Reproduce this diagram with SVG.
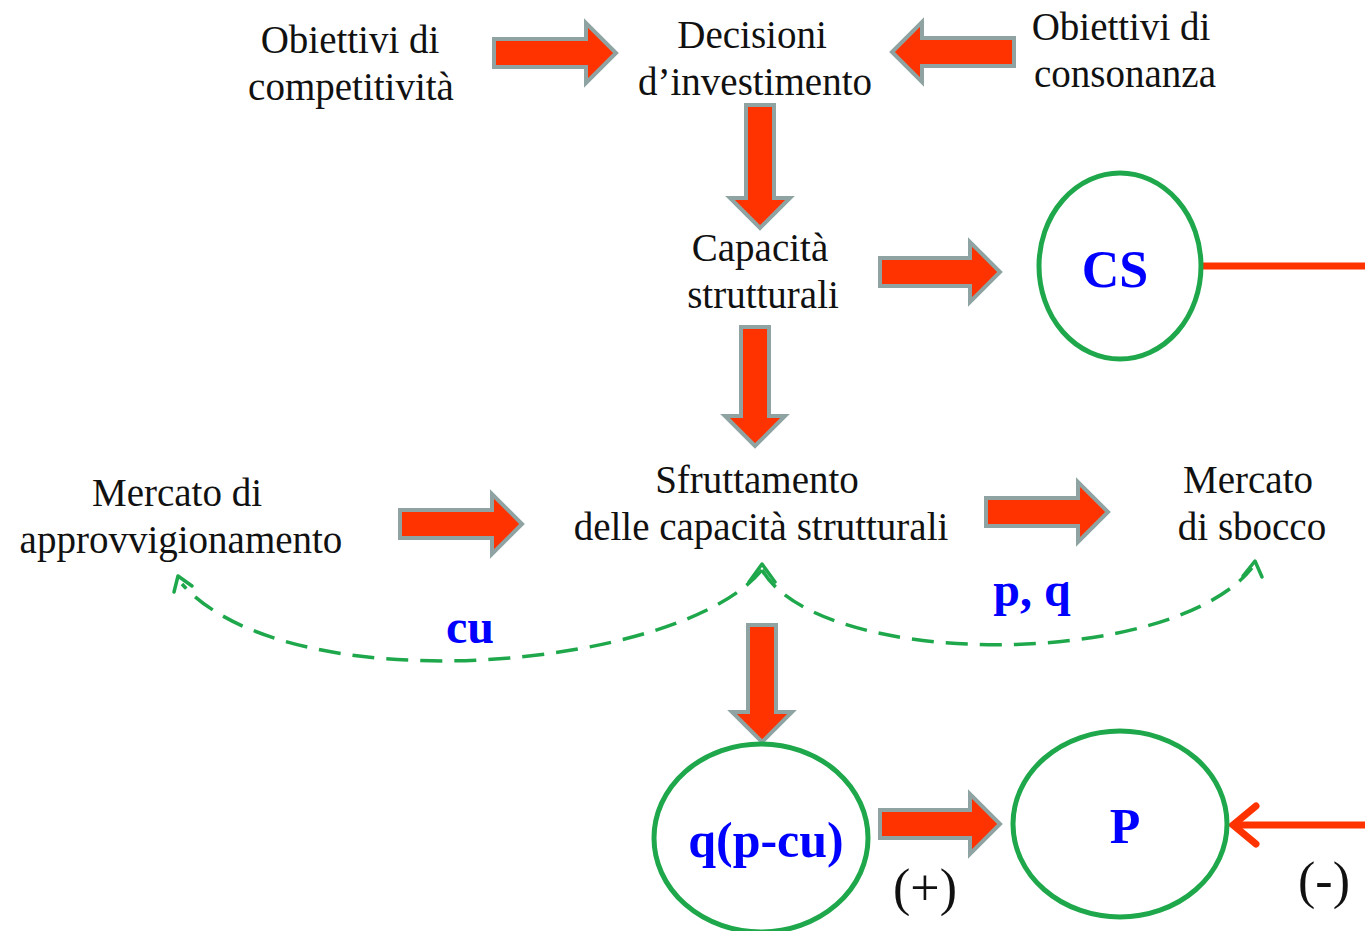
<svg xmlns="http://www.w3.org/2000/svg" width="1365" height="931" viewBox="0 0 1365 931">
<style>
.t{font-family:"Liberation Serif","Times New Roman",serif;font-size:39px;fill:#111;text-anchor:middle}
.b{font-family:"Liberation Serif","Times New Roman",serif;font-weight:bold;fill:#0000FF;text-anchor:middle}
.blk{fill:#FF3300;stroke:#8FA3A3;stroke-width:4;stroke-linejoin:miter}
.ell{fill:#fff;stroke:#1EA84B;stroke-width:5}
.dash{fill:none;stroke:#1EA84B;stroke-width:3.5;stroke-dasharray:22 12}
.chev{fill:none;stroke:#1EA84B;stroke-width:3.5;stroke-linecap:round;stroke-linejoin:round}
.rl{fill:none;stroke:#FF3300;stroke-width:7;stroke-linecap:butt}
.rchev{fill:none;stroke:#FF3300;stroke-width:7;stroke-linecap:round;stroke-linejoin:miter}
</style>
<rect width="1365" height="931" fill="#fff"/>
<g id="connectors">
<polygon class="blk" points="494,39 586,39 586,23 616,53 586,83 586,67 494,67"/>
<polygon class="blk" points="1014,38 922,38 922,22 892,52 922,82 922,66 1014,66"/>
<polygon class="blk" points="746,105 746,198 730,198 760,228 790,198 774,198 774,105"/>
<polygon class="blk" points="880,258 970,258 970,242 1000,272 970,302 970,286 880,286"/>
<polygon class="blk" points="741,327 741,416 725,416 755,446 785,416 769,416 769,327"/>
<polygon class="blk" points="400,510 492,510 492,494 522,524 492,554 492,538 400,538"/>
<polygon class="blk" points="986,498 1078,498 1078,482 1108,512 1078,542 1078,526 986,526"/>
<polygon class="blk" points="748,625 748,712 732,712 762,742 792,712 776,712 776,625"/>
<polygon class="blk" points="880,810 970,810 970,794 1000,824 970,854 970,838 880,838"/>
<path class="dash" d="M762,570 C680,670 290,705 182,584"/>
<path class="dash" d="M762,570 C820,670 1170,670 1252,568"/>
<polyline class="chev" points="749,582 762,564 775,582"/>
<polyline class="chev" points="174,592 178,576 192,586"/>
<polyline class="chev" points="1243,576 1255,561 1262,577"/>
<line class="rl" x1="1200" y1="266" x2="1365" y2="266"/>
<line class="rl" x1="1234" y1="825" x2="1365" y2="825"/>
<polyline class="rchev" points="1256,806 1233,825 1256,844"/>
</g>
<g id="obiettivi-competitivita"><text class="t" x="350" y="53">Obiettivi di</text><text class="t" x="351" y="100">competitività</text></g>
<g id="decisioni"><text class="t" x="752" y="48">Decisioni</text><text class="t" x="755" y="95">d’investimento</text></g>
<g id="obiettivi-consonanza"><text class="t" x="1121" y="40">Obiettivi di</text><text class="t" x="1125" y="87">consonanza</text></g>
<g id="capacita"><text class="t" x="760" y="261">Capacità</text><text class="t" x="763" y="308">strutturali</text></g>
<g id="cs"><ellipse class="ell" cx="1120" cy="266" rx="81" ry="93"/><text class="b" x="1115" y="287" font-size="52">CS</text></g>
<g id="mercato-approvvigionamento"><text class="t" x="177" y="506">Mercato di</text><text class="t" x="181" y="553">approvvigionamento</text></g>
<g id="sfruttamento"><text class="t" x="757" y="493">Sfruttamento</text><text class="t" x="761" y="540">delle capacità strutturali</text></g>
<g id="mercato-sbocco"><text class="t" x="1248" y="493">Mercato</text><text class="t" x="1252" y="540">di sbocco</text></g>
<g id="label-pq"><text class="b" x="1032" y="606" font-size="48">p, q</text></g>
<g id="label-cu"><text class="b" x="470" y="643" font-size="48">cu</text></g>
<g id="qpcu"><ellipse class="ell" cx="761" cy="838" rx="107" ry="94"/><text class="b" x="766" y="857" font-size="50">q(p-cu)</text></g>
<g id="p"><ellipse class="ell" cx="1120" cy="824" rx="107" ry="93"/><text class="b" x="1125" y="843" font-size="50">P</text></g>
<g id="label-plus"><text class="t" x="925" y="905" style="font-size:52px">(+)</text></g>
<g id="label-minus"><text class="t" x="1324" y="898" style="font-size:52px">(-)</text></g>
</svg>
